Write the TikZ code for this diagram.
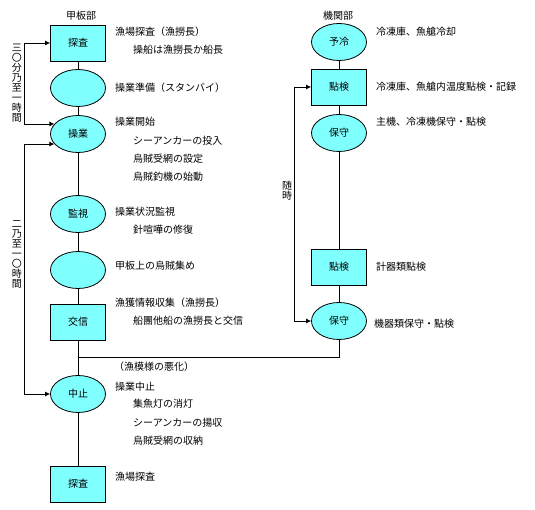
\documentclass[tikz,border=0pt]{standalone}
\usepackage{fontspec}
\setmainfont{Noto Sans CJK JP}
\usetikzlibrary{shapes.geometric,arrows.meta}
\definecolor{boxcyan}{RGB}{128,255,255}
\begin{document}
\begin{tikzpicture}[x=1pt,y=-1pt,
  every node/.style={font=\fontsize{10}{10}\selectfont},
  rectbox/.style={draw,fill=boxcyan,minimum width=55pt,minimum height=36pt,inner sep=0pt,line width=0.8pt},
  ellbox/.style={ellipse,draw,fill=boxcyan,minimum width=55pt,minimum height=37pt,inner sep=0pt,line width=0.8pt},
  lab/.style={anchor=west,inner sep=0pt},
  vlab/.style={align=center,inner sep=0pt},
  conn/.style={line width=0.8pt},
  arr/.style={line width=0.8pt,{Latex[length=5pt,width=5pt]}-{Latex[length=5pt,width=5pt]}}]
\useasboundingbox (0,0) rectangle (535,510);

% headers
\node (h1) at (81,16) {甲板部};
\node (h2) at (338,16) {機関部};

% left column
\node[rectbox] (s1) at (78,43) {探査};
\node[ellbox]  (s2) at (78,88) {};
\node[ellbox]  (s3) at (78,134) {操業};
\node[ellbox]  (s4) at (78,214) {監視};
\node[ellbox]  (s5) at (78,270) {};
\node[rectbox] (s6) at (78,322) {交信};
\node[ellbox]  (s7) at (78,394) {中止};
\node[rectbox] (s8) at (78,484) {探査};

% right column
\node[ellbox]  (r1) at (339,42) {予冷};
\node[rectbox] (r2) at (339,87) {點検};
\node[ellbox]  (r3) at (339,133) {保守};
\node[rectbox] (r4) at (339,267) {點検};
\node[ellbox]  (r5) at (339,321) {保守};

% connectors
\draw[conn] (s1) -- (s2);
\draw[conn] (s2) -- (s3);
\draw[conn] (s3) -- (s4);
\draw[conn] (s4) -- (s5);
\draw[conn] (s5) -- (s6);
\draw[conn] (s6) -- (s7);
\draw[conn] (s7) -- (s8);
\draw[conn] (r1) -- (r2);
\draw[conn] (r2) -- (r3);
\draw[conn] (r3) -- (r4);
\draw[conn] (r4) -- (r5);
\coordinate (j) at (78,357);
\draw[conn] (r5.south) |- (j);

% brackets
\coordinate (bl) at (24,0);
\coordinate (br) at (294,0);
\draw[arr] (s1.west) -- (s1.west -| bl) -- (s3.157 -| bl) -- (s3.157);
\draw[arr] (s3.203) -- (s3.203 -| bl) -- (s7.west -| bl) -- (s7.west);
\draw[arr] (r2.west) -- (r2.west -| br) -- (r5.west -| br) -- (r5.west);

\node[vlab] (v1) at (17,83) {三\\〇\\分\\乃\\至\\一\\時\\間};
\node[vlab] (v2) at (17,254) {二\\乃\\至\\一\\〇\\時\\間};
\node[vlab] (v3) at (287,191) {随\\時};

% left labels
\node[lab] (t1) at (115,32) {漁場探査（漁撈長）};
\node[lab] (t2) at (133,50) {操船は漁撈長か船長};
\node[lab] (t3) at (115,88) {操業準備（スタンバイ）};
\node[lab] (t4) at (115,122) {操業開始};
\node[lab] (t5) at (133,141) {シーアンカーの投入};
\node[lab] (t6) at (133,159) {烏賊受網の設定};
\node[lab] (t7) at (133,177) {烏賊釣機の始動};
\node[lab] (t8) at (115,212) {操業状況監視};
\node[lab] (t9) at (133,230) {針喧嘩の修復};
\node[lab] (t10) at (115,266) {甲板上の烏賊集め};
\node[lab] (t11) at (115,303) {漁獲情報収集（漁撈長）};
\node[lab] (t12) at (133,321) {船團他船の漁撈長と交信};
\node[lab] (t13) at (114,367) {（漁模様の悪化）};
\node[lab] (t14) at (115,387) {操業中止};
\node[lab] (t15) at (133,404) {集魚灯の消灯};
\node[lab] (t16) at (133,423) {シーアンカーの揚収};
\node[lab] (t17) at (133,441) {烏賊受網の収納};
\node[lab] (t18) at (115,477) {漁場探査};

% right labels
\node[lab] (u1) at (376,32) {冷凍庫、魚艙冷却};
\node[lab] (u2) at (376,87) {冷凍庫、魚艙内温度點検・記録};
\node[lab] (u3) at (376,122) {主機、冷凍機保守・點検};
\node[lab] (u4) at (376,267) {計器類點検};
\node[lab] (u5) at (374,324) {機器類保守・點検};
\end{tikzpicture}
\end{document}
